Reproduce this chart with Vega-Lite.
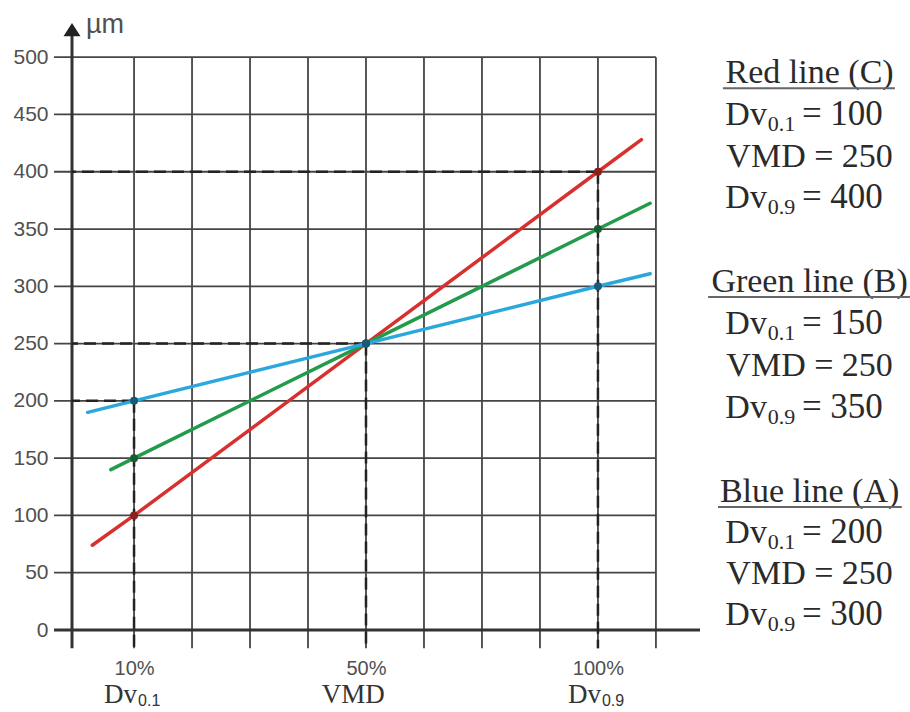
{
  "$schema": "https://vega.github.io/schema/vega-lite/v6.json",
  "width": 628,
  "height": 590,
  "autosize": {"type": "none"},
  "padding": {"left": 72, "top": 40, "right": 210, "bottom": 82},
  "background": "white",
  "config": {"view": {"stroke": null}},
  "datasets": {
    "hgrid": [{"v": 50},{"v": 100},{"v": 150},{"v": 200},{"v": 250},{"v": 300},{"v": 350},{"v": 400},{"v": 450},{"v": 500}],
    "vgrid": [{"v": 1},{"v": 2},{"v": 3},{"v": 4},{"v": 5},{"v": 6},{"v": 7},{"v": 8},{"v": 9},{"v": 10}],
    "guides": [{"p": 1, "d": 200},{"p": 5, "d": 250},{"p": 9, "d": 400}],
    "one": [{}],
    "lines": [
      {"s": "Red line (C)", "p": 0.28, "d": 74},
      {"s": "Red line (C)", "p": 1, "d": 100},
      {"s": "Red line (C)", "p": 5, "d": 250},
      {"s": "Red line (C)", "p": 9, "d": 400},
      {"s": "Red line (C)", "p": 9.75, "d": 428},
      {"s": "Green line (B)", "p": 0.6, "d": 140},
      {"s": "Green line (B)", "p": 1, "d": 150},
      {"s": "Green line (B)", "p": 5, "d": 250},
      {"s": "Green line (B)", "p": 9, "d": 350},
      {"s": "Green line (B)", "p": 9.9, "d": 372.5},
      {"s": "Blue line (A)", "p": 0.2, "d": 190},
      {"s": "Blue line (A)", "p": 1, "d": 200},
      {"s": "Blue line (A)", "p": 5, "d": 250},
      {"s": "Blue line (A)", "p": 9, "d": 300},
      {"s": "Blue line (A)", "p": 9.9, "d": 311}
    ],
    "points": [
      {"s": "Red line (C)", "p": 1, "d": 100},
      {"s": "Red line (C)", "p": 5, "d": 250},
      {"s": "Red line (C)", "p": 9, "d": 400},
      {"s": "Green line (B)", "p": 1, "d": 150},
      {"s": "Green line (B)", "p": 5, "d": 250},
      {"s": "Green line (B)", "p": 9, "d": 350},
      {"s": "Blue line (A)", "p": 1, "d": 200},
      {"s": "Blue line (A)", "p": 5, "d": 250},
      {"s": "Blue line (A)", "p": 9, "d": 300}
    ],
    "bottom": [{"p": 1, "sub": "0.1"},{"p": 9, "sub": "0.9"}],
    "heads": [{"t": "Red line (C)", "y": 477.3},{"t": "Green line (B)", "y": 294.9},{"t": "Blue line (A)", "y": 111.7}],
    "stats": [
      {"sub": "0.1", "post": "= 100", "y": 440.7},
      {"sub": "0.9", "post": "= 400", "y": 368.2},
      {"sub": "0.1", "post": "= 150", "y": 258.3},
      {"sub": "0.9", "post": "= 350", "y": 185.0},
      {"sub": "0.1", "post": "= 200", "y": 75.9},
      {"sub": "0.9", "post": "= 300", "y": 4.4}
    ],
    "vmds": [{"t": "VMD = 250", "y": 404.0},{"t": "VMD = 250", "y": 221.6},{"t": "VMD = 250", "y": 40.1}]
  },
  "layer": [
    {
      "data": {"name": "hgrid"},
      "mark": {"type": "rule", "color": "#454545", "strokeWidth": 1.8},
      "encoding": {
        "y": {"field": "v", "type": "quantitative",
          "scale": {"domain": [0, 515], "nice": false, "zero": false},
          "axis": {"values": [0,50,100,150,200,250,300,350,400,450,500], "title": null, "domain": false, "ticks": false, "grid": false, "labelPadding": 24, "labelFontSize": 21, "labelFont": "Liberation Sans", "labelColor": "#505050", "labelFlush": false}},
        "x": {"datum": -0.38, "type": "quantitative",
          "scale": {"domain": [-0.07, 10.76], "nice": false, "zero": false},
          "axis": {"values": [1, 5, 9], "labelExpr": "datum.value == 1 ? '10%' : datum.value == 5 ? '50%' : '100%'", "title": null, "domain": false, "ticks": false, "grid": false, "labelPadding": 28, "labelFontSize": 20, "labelFont": "Liberation Sans", "labelColor": "#505050", "labelFlush": false}},
        "x2": {"datum": 10}
      }
    },
    {
      "data": {"name": "vgrid"},
      "mark": {"type": "rule", "color": "#454545", "strokeWidth": 1.8},
      "encoding": {
        "x": {"field": "v", "type": "quantitative"},
        "y": {"datum": -16, "type": "quantitative"},
        "y2": {"datum": 500}
      }
    },
    {
      "data": {"name": "one"},
      "mark": {"type": "rule", "color": "#333333", "strokeWidth": 3},
      "encoding": {
        "y": {"datum": 0, "type": "quantitative"},
        "x": {"datum": -0.38, "type": "quantitative"},
        "x2": {"datum": 10.76}
      }
    },
    {
      "data": {"name": "one"},
      "mark": {"type": "rule", "color": "#333333", "strokeWidth": 3},
      "encoding": {
        "x": {"datum": -0.07, "type": "quantitative"},
        "y": {"datum": -16, "type": "quantitative"},
        "y2": {"datum": 519}
      }
    },
    {
      "data": {"name": "one"},
      "mark": {"type": "point", "shape": "M-1,1L0,-0.55L1,1Z", "size": 289, "filled": true, "color": "#222222", "opacity": 1},
      "encoding": {
        "x": {"datum": -0.07, "type": "quantitative"},
        "y": {"datum": 525.7, "type": "quantitative"}
      }
    },
    {
      "data": {"name": "guides"},
      "mark": {"type": "rule", "color": "#222222", "strokeWidth": 2.5, "strokeDash": [12, 6]},
      "encoding": {
        "x": {"field": "p", "type": "quantitative"},
        "y": {"field": "d", "type": "quantitative"},
        "y2": {"datum": -16}
      }
    },
    {
      "data": {"name": "guides"},
      "mark": {"type": "rule", "color": "#222222", "strokeWidth": 2.5, "strokeDash": [12, 6]},
      "encoding": {
        "y": {"field": "d", "type": "quantitative"},
        "x": {"field": "p", "type": "quantitative"},
        "x2": {"datum": -0.07}
      }
    },
    {
      "data": {"name": "lines"},
      "mark": {"type": "line", "strokeWidth": 3.5, "strokeCap": "round"},
      "encoding": {
        "x": {"field": "p", "type": "quantitative"},
        "y": {"field": "d", "type": "quantitative"},
        "color": {"field": "s", "type": "nominal", "legend": null,
          "scale": {"domain": ["Red line (C)", "Green line (B)", "Blue line (A)"], "range": ["#d8302f", "#229b4b", "#2aa8de"]}},
        "order": {"field": "p"}
      }
    },
    {
      "data": {"name": "points"},
      "mark": {"type": "point", "filled": true, "size": 64, "opacity": 1},
      "encoding": {
        "x": {"field": "p", "type": "quantitative"},
        "y": {"field": "d", "type": "quantitative"},
        "fill": {"field": "s", "type": "nominal", "legend": null,
          "scale": {"domain": ["Red line (C)", "Green line (B)", "Blue line (A)"], "range": ["#8a1f1f", "#175e30", "#175a7a"]}}
      }
    },
    {
      "data": {"name": "one"},
      "mark": {"type": "text", "text": "µm", "align": "left", "baseline": "alphabetic", "font": "Liberation Sans", "fontSize": 27, "color": "#505050"},
      "encoding": {
        "x": {"datum": 0.17, "type": "quantitative"},
        "y": {"datum": 521, "type": "quantitative"}
      }
    },
    {
      "data": {"name": "bottom"},
      "mark": {"type": "text", "text": "Dv", "align": "right", "baseline": "alphabetic", "dx": 3, "font": "Liberation Serif", "fontSize": 27, "color": "#333333"},
      "encoding": {
        "x": {"field": "p", "type": "quantitative"},
        "y": {"datum": -64, "type": "quantitative"}
      }
    },
    {
      "data": {"name": "bottom"},
      "mark": {"type": "text", "align": "left", "baseline": "alphabetic", "dx": 4, "dy": 3, "font": "Liberation Sans", "fontSize": 16, "color": "#333333"},
      "encoding": {
        "x": {"field": "p", "type": "quantitative"},
        "y": {"datum": -64, "type": "quantitative"},
        "text": {"field": "sub"}
      }
    },
    {
      "data": {"name": "one"},
      "mark": {"type": "text", "text": "VMD", "align": "center", "baseline": "alphabetic", "font": "Liberation Serif", "fontSize": 27, "color": "#333333"},
      "encoding": {
        "x": {"datum": 4.78, "type": "quantitative"},
        "y": {"datum": -64, "type": "quantitative"}
      }
    },
    {
      "data": {"name": "heads"},
      "mark": {"type": "text", "align": "center", "baseline": "alphabetic", "font": "Liberation Serif", "fontSize": 34, "color": "#2a2a2a"},
      "encoding": {
        "x": {"datum": 12.65, "type": "quantitative"},
        "y": {"field": "y", "type": "quantitative"},
        "text": {"field": "t"}
      }
    },
    {
      "data": {"name": "one"},
      "mark": {"type": "rule", "color": "#666666", "strokeWidth": 2},
      "encoding": {
        "x": {"datum": 11.155, "type": "quantitative"},
        "x2": {"datum": 14.121},
        "y": {"datum": 472.9, "type": "quantitative"}
      }
    },
    {
      "data": {"name": "one"},
      "mark": {"type": "rule", "color": "#666666", "strokeWidth": 2},
      "encoding": {
        "x": {"datum": 10.9, "type": "quantitative"},
        "x2": {"datum": 14.38},
        "y": {"datum": 290.6, "type": "quantitative"}
      }
    },
    {
      "data": {"name": "one"},
      "mark": {"type": "rule", "color": "#666666", "strokeWidth": 2},
      "encoding": {
        "x": {"datum": 11.07, "type": "quantitative"},
        "x2": {"datum": 14.24},
        "y": {"datum": 107.3, "type": "quantitative"}
      }
    },
    {
      "data": {"name": "stats"},
      "mark": {"type": "text", "text": "Dv", "align": "right", "baseline": "alphabetic", "font": "Liberation Serif", "fontSize": 34, "color": "#2a2a2a"},
      "encoding": {
        "x": {"datum": 11.914, "type": "quantitative"},
        "y": {"field": "y", "type": "quantitative"}
      }
    },
    {
      "data": {"name": "stats"},
      "mark": {"type": "text", "align": "left", "baseline": "alphabetic", "dy": 6, "font": "Liberation Serif", "fontSize": 22, "color": "#2a2a2a"},
      "encoding": {
        "x": {"datum": 11.93, "type": "quantitative"},
        "y": {"field": "y", "type": "quantitative"},
        "text": {"field": "sub"}
      }
    },
    {
      "data": {"name": "stats"},
      "mark": {"type": "text", "align": "left", "baseline": "alphabetic", "font": "Liberation Serif", "fontSize": 35, "color": "#2a2a2a"},
      "encoding": {
        "x": {"datum": 12.517, "type": "quantitative"},
        "y": {"field": "y", "type": "quantitative"},
        "text": {"field": "post"}
      }
    },
    {
      "data": {"name": "vmds"},
      "mark": {"type": "text", "align": "center", "baseline": "alphabetic", "font": "Liberation Serif", "fontSize": 34, "color": "#2a2a2a"},
      "encoding": {
        "x": {"datum": 12.65, "type": "quantitative"},
        "y": {"field": "y", "type": "quantitative"},
        "text": {"field": "t"}
      }
    }
  ]
}
